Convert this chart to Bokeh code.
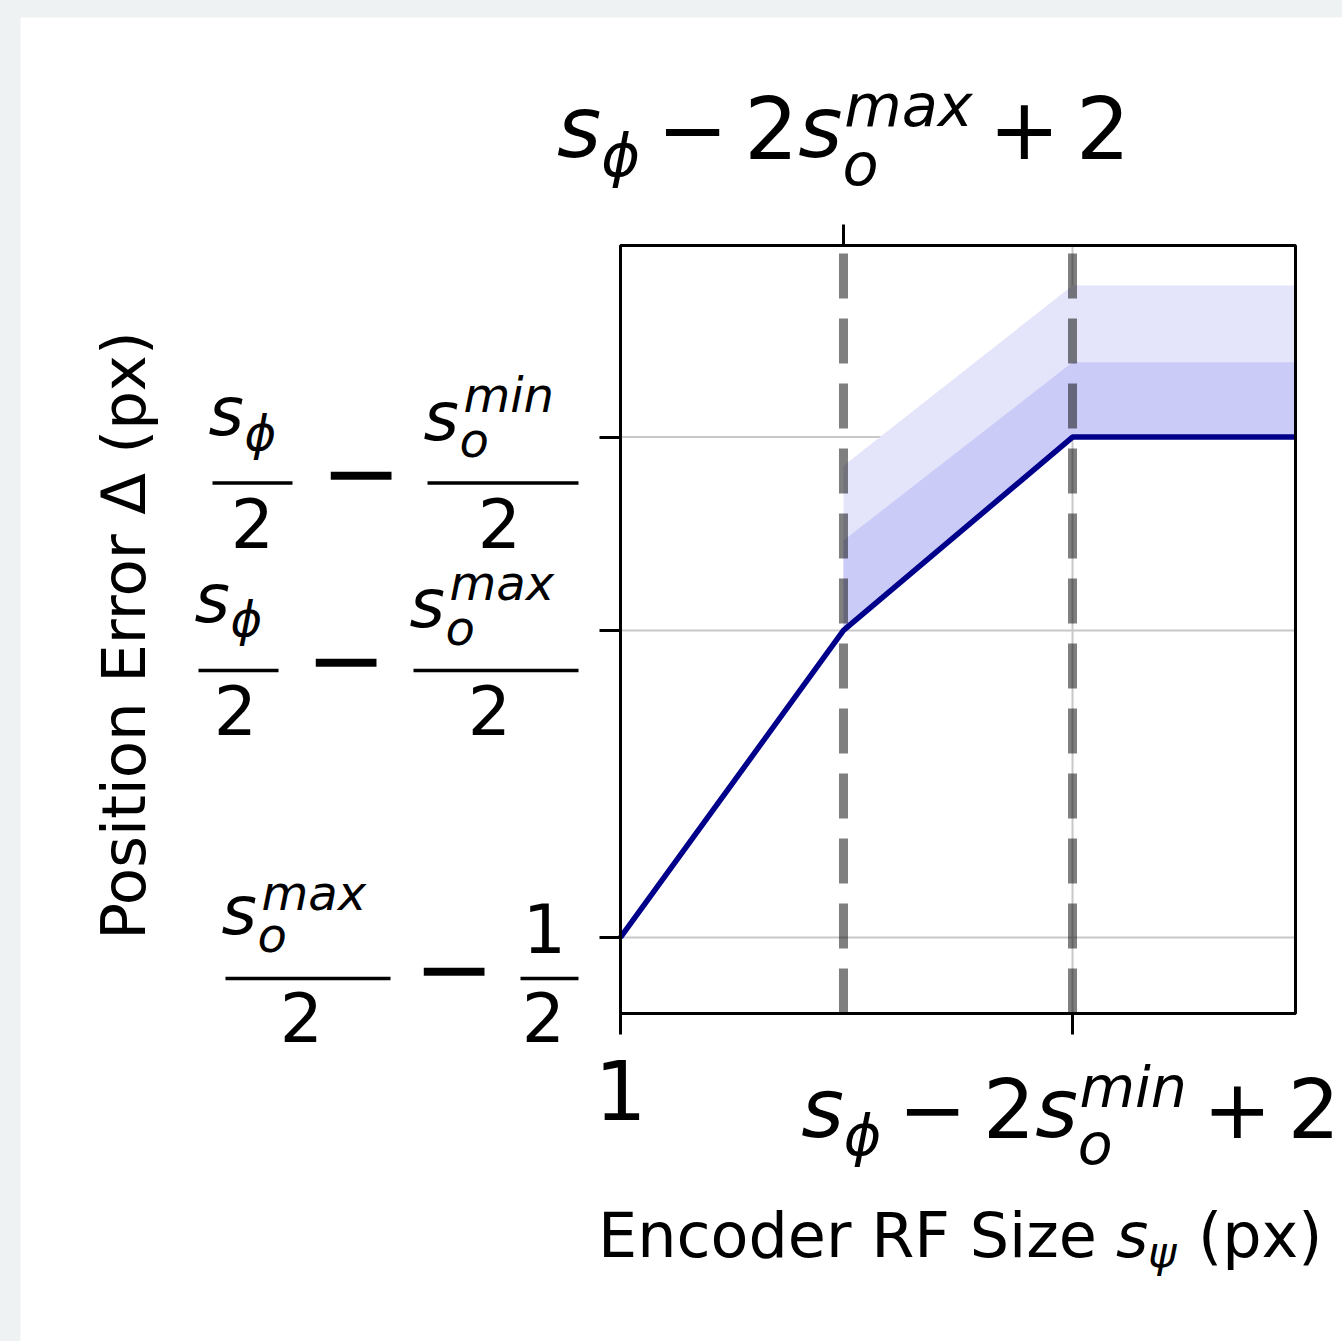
from bokeh.plotting import figure
from bokeh.models import Label, FixedTicker, LinearAxis, Range1d
from bokeh.layouts import column
from bokeh.embed import file_html
from bokeh.resources import INLINE

# ---------------- data ----------------
rf_size = [1.0, 6.92, 13.0, 18.92]        # encoder RF size (x)
pos_error = [2.5, 5.5, 7.39, 7.39]        # position error (solid line)
band_x = [6.92, 13.0, 18.92]
band_base = [5.5, 7.39, 7.39]
band_mid = [6.38, 8.12, 8.12]
band_top = [7.11, 8.87, 8.87]
breakpoints = [6.92, 13.0]
x_ticks_bottom = [1.0, 13.0]
x_ticks_top = [6.92]
y_ticks = [2.5, 5.5, 7.39]
x_limits = [1.0, 18.92]
y_limits = [1.757, 9.262]

FONT = "DejaVu Sans"
W, H = 1322, 1324
BL, BR, BT, BB = 600, 47, 228, 328     # space around the axes box (px)
FW = W - BL - BR
FH = H - BT - BB
SX = FW / (x_limits[1] - x_limits[0])
SY = FH / (y_limits[1] - y_limits[0])
BASE_FIX = 0.37                         # baseline correction (fraction of font size)

p = figure(width=W, height=H, output_backend="svg", toolbar_location=None,
           x_range=Range1d(x_limits[0] - BL / SX, x_limits[1] + BR / SX),
           y_range=Range1d(y_limits[0] - BB / SY, y_limits[1] + BT / SY),
           x_axis_type=None, y_axis_type=None, min_border=0,
           background_fill_color="white", border_fill_color="white")
p.margin = (17, 0, 0, 20)
p.outline_line_color = None
p.grid.visible = False


def styled_axis(ticks, loc):
    ax = LinearAxis(ticker=FixedTicker(ticks=ticks), fixed_location=loc)
    ax.major_label_text_color = None
    ax.minor_tick_line_color = None
    ax.major_tick_out = 21
    ax.major_tick_in = 0
    ax.major_tick_line_width = 3
    ax.major_tick_line_color = "black"
    ax.axis_line_color = None
    return ax


ax_left = styled_axis(y_ticks, x_limits[0])
ax_left.bounds = tuple(y_limits)
p.add_layout(ax_left, "left")
ax_bottom = styled_axis(x_ticks_bottom, y_limits[0])
ax_bottom.bounds = tuple(x_limits)
p.add_layout(ax_bottom, "below")
ax_top = styled_axis(x_ticks_top, y_limits[1])
ax_top.bounds = tuple(x_limits)
p.add_layout(ax_top, "above")

# grid lines at tick positions
p.segment(x0=[x_limits[0]] * len(y_ticks), y0=y_ticks, x1=[x_limits[1]] * len(y_ticks), y1=y_ticks,
          line_color="#c8c8c8", line_width=2)
p.segment(x0=x_ticks_bottom, y0=[y_limits[0]] * 2, x1=x_ticks_bottom, y1=[y_limits[1]] * 2,
          line_color="#c8c8c8", line_width=2)

# bands
p.varea(x=band_x, y1=band_base, y2=band_top, fill_color="#e4e4fb")
p.varea(x=band_x, y1=band_base, y2=band_mid, fill_color="#cbcbf8")
# dashed break lines
p.segment(x0=breakpoints, y0=[y_limits[0]] * len(breakpoints), x1=breakpoints,
          y1=[y_limits[1]] * len(breakpoints), line_color="black", line_alpha=0.5,
          line_width=9, line_dash="45 20")
# main line
p.line(rf_size, pos_error, line_color="#00008b", line_width=5.5)
# axes box
p.quad(left=[x_limits[0]], right=[x_limits[1]], bottom=[y_limits[0]], top=[y_limits[1]],
       fill_color=None, line_color="black", line_width=3)


def ux(px):
    return px / SX


def uy(px_down):
    return -px_down / SY


def txt(text, x, y, size, style="normal", align="left", angle=0.0):
    if angle == 0.0:
        y = y + BASE_FIX * size / SY
    else:
        x = x - BASE_FIX * size / SX
    p.add_layout(Label(x=x, y=y, text=text, text_font=FONT, text_font_size=f"{size}px",
                       text_font_style=style, text_align=align, text_baseline="alphabetic",
                       text_color="black", angle=angle))


bars_x0, bars_x1, bars_y = [], [], []


def bar(x0, x1, y):
    bars_x0.append(x0)
    bars_x1.append(x1)
    bars_y.append(y)


def pieces(items, x0, y0):
    for it in items:
        t, dx, dy, size, style = it[:5]
        align = it[5] if len(it) > 5 else "left"
        txt(t, x0 + ux(dx), y0 + uy(dy), size, style, align)


ADV = {"s": 0.521, "ϕ": 0.674, "−": 0.838, "2": 0.636, "+": 0.838,
       "m": 0.974, "a": 0.613, "x": 0.592, "i": 0.278, "n": 0.634}


def xmath(sup, F, sp):
    S = round(0.7 * F)
    items = []
    x = 0.0
    items.append(("s", x, 0, F, "italic"))
    x += ADV["s"] * F
    items.append(("ϕ", x, 0.22 * F, S, "italic"))
    x += ADV["ϕ"] * S + sp
    items.append(("−", x, 0, F, "normal"))
    x += ADV["−"] * F + sp
    items.append(("2", x, 0, F, "normal"))
    x += ADV["2"] * F
    items.append(("s", x, 0, F, "italic"))
    x += ADV["s"] * F
    items.append((sup, x + 0.02 * F, -0.366 * F, S, "italic"))
    items.append(("o", x, 0.33 * F, S, "italic"))
    x += sum(ADV[c] for c in sup) * S + 0.02 * F + sp
    items.append(("+", x, 0, F, "normal"))
    x += ADV["+"] * F + sp
    items.append(("2", x, 0, F, "normal"))
    x += ADV["2"] * F
    return [(t, dx - x / 2, dy, sz, st) for (t, dx, dy, sz, st) in items]


# top tick label
pieces(xmath("max", 85, 16), x_ticks_top[0], y_limits[1] + uy(-87))
# bottom tick labels
txt("1", x_ticks_bottom[0], y_limits[0] + uy(107), 82, "normal", "center")
pieces(xmath("min", 82, 16), x_ticks_bottom[1] + ux(-2), y_limits[0] + uy(125))

# y tick labels (fractions)
FF, FS, FM = 68, 48, 97
xl = x_limits[0]
y = y_ticks[2]
pieces([("s", -412, 0, FF, "italic"), ("ϕ", -376, 14, FS, "italic"),
        ("2", -368, 111, FF, "normal", "center"), ("−", -300, 69, FM, "normal"),
        ("s", -197, 5, FF, "italic"), ("o", -161, 21, FS, "italic"), ("min", -157, -24, FS, "italic"),
        ("2", -121, 111, FF, "normal", "center")], xl, y)
bar(xl + ux(-408), xl + ux(-328), y + uy(46))
bar(xl + ux(-193), xl + ux(-42), y + uy(46))
y = y_ticks[1]
pieces([("s", -426, -7, FF, "italic"), ("ϕ", -390, 6, FS, "italic"),
        ("2", -385, 105, FF, "normal", "center"), ("−", -315, 63, FM, "normal"),
        ("s", -211, -2, FF, "italic"), ("o", -175, 15, FS, "italic"), ("max", -171, -30, FS, "italic"),
        ("2", -131, 105, FF, "normal", "center")], xl, y)
bar(xl + ux(-422), xl + ux(-342), y + uy(40))
bar(xl + ux(-207), xl + ux(-42), y + uy(40))
y = y_ticks[0]
pieces([("s", -399, -2, FF, "italic"), ("o", -363, 15, FS, "italic"), ("max", -359, -27, FS, "italic"),
        ("2", -319, 105, FF, "normal", "center"), ("−", -207, 65, FM, "normal"),
        ("1", -76, 16, FF, "normal", "center"), ("2", -77, 105, FF, "normal", "center")], xl, y)
bar(xl + ux(-395), xl + ux(-230), y + uy(41))
bar(xl + ux(-100), xl + ux(-42), y + uy(41))
p.segment(x0=bars_x0, y0=bars_y, x1=bars_x1, y1=bars_y, line_color="black", line_width=3.5)

# axis labels
LF = 62
xc = (x_limits[0] + x_limits[1]) / 2
yb = y_limits[0] + uy(245)
pieces([("Encoder RF Size", -360, 0, LF, "normal"), ("s", 158, 0, LF, "italic"),
        ("ψ", 190, 9, 43, "italic"), ("(px)", 240, 0, LF, "normal")], xc, yb)
yc = (y_limits[0] + y_limits[1]) / 2 + uy(6)
txt("Position Error Δ (px)", xl + ux(-474), yc, 61, "normal", "center", angle=1.5707963)

layout = column(p, styles={"background-color": "#eef2f3"})
open("out.html", "w").write(file_html(layout, INLINE))
